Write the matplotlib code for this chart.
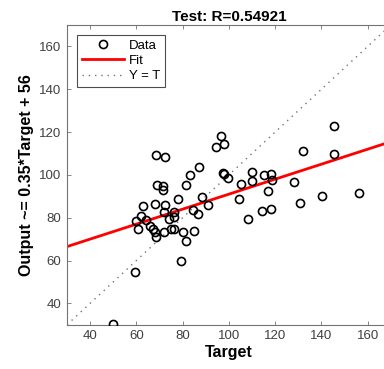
import matplotlib.pyplot as plt
import numpy as np

# test targets / network outputs
target = [68.5, 72.3, 94.3, 96.5, 97.8, 87.0, 83.4, 97.3, 98.0, 99.7,
          110.0, 115.0, 118.2, 118.7, 110.0, 105.1, 128.1, 132.0, 145.6, 145.5,
          68.8, 71.7, 71.3, 81.4, 78.2, 88.5, 90.8, 84.4, 86.5, 104.2,
          117.1, 130.8, 140.1, 156.3, 114.5, 118.1, 108.4, 62.8, 68.0, 72.3,
          71.8, 76.2, 61.9, 59.8, 64.1, 73.9, 76.3, 60.8, 65.9, 67.1,
          68.1, 68.4, 71.8, 74.9, 76.4, 80.0, 85.1, 81.6, 79.2, 59.6, 49.8]
output = [109.2, 108.3, 113.2, 118.2, 114.5, 103.9, 100.1, 100.9, 100.3, 98.7,
          101.4, 99.9, 100.2, 97.4, 97.0, 95.7, 96.9, 111.1, 109.7, 122.9,
          95.5, 95.0, 92.9, 95.2, 88.9, 89.5, 85.8, 83.8, 81.8, 88.9,
          92.7, 87.0, 90.3, 91.7, 83.2, 83.9, 79.6, 85.6, 86.6, 85.9,
          82.5, 82.8, 80.7, 78.5, 78.9, 79.3, 80.1, 74.5, 76.3, 74.6,
          73.4, 71.2, 73.1, 74.5, 74.8, 73.4, 73.8, 69.2, 60.0, 54.6, 30.3]
slope = 0.35
intercept = 56
r_value = 0.54921
lims = [30, 170]
ticks = [40, 60, 80, 100, 120, 140, 160]

plt.rcParams['font.family'] = ['Liberation Sans', 'DejaVu Sans']

fig = plt.figure(figsize=(3.84, 3.69), dpi=100)
ax = fig.add_axes([0.1745, 0.12, 0.843, 0.812])

ax.plot(target, output, 'o', mfc='none', mec='black', ms=5.8, mew=1.2,
        label='Data', zorder=3)
xs = np.array(lims)
ax.plot(xs, slope * xs + intercept, color='#ff0000', lw=2, label='Fit', zorder=2)
ax.plot(xs, xs, color='0.45', lw=1, ls=(0, (1, 3.5)), label='Y = T', zorder=1)

ax.set_xlim(lims)
ax.set_ylim(lims)
ax.set_xticks(ticks)
ax.set_yticks(ticks)
ax.tick_params(direction='in', top=True, right=True, length=3, width=0.6,
               labelsize=9.5, labelcolor='0.25', color='0.45', pad=4)
for s in ax.spines.values():
    s.set_color('0.45')
    s.set_linewidth(0.8)

ax.set_title(f'Test: R={r_value}', fontsize=11, fontweight='bold', pad=3)
ax.set_xlabel('Target', fontsize=11.5, fontweight='bold', labelpad=2)
ax.set_ylabel(f'Output ~= {slope}*Target + {intercept}', fontsize=11.5,
              fontweight='bold', labelpad=4)

leg = ax.legend(loc='upper left', fontsize=9.5, fancybox=False, framealpha=1,
                edgecolor='0.3', handlelength=3.2, handletextpad=0.4,
                borderpad=0.35, labelspacing=0.22, borderaxespad=0.75)
leg.get_frame().set_linewidth(0.8)

fig.savefig('out.png', dpi=100)
